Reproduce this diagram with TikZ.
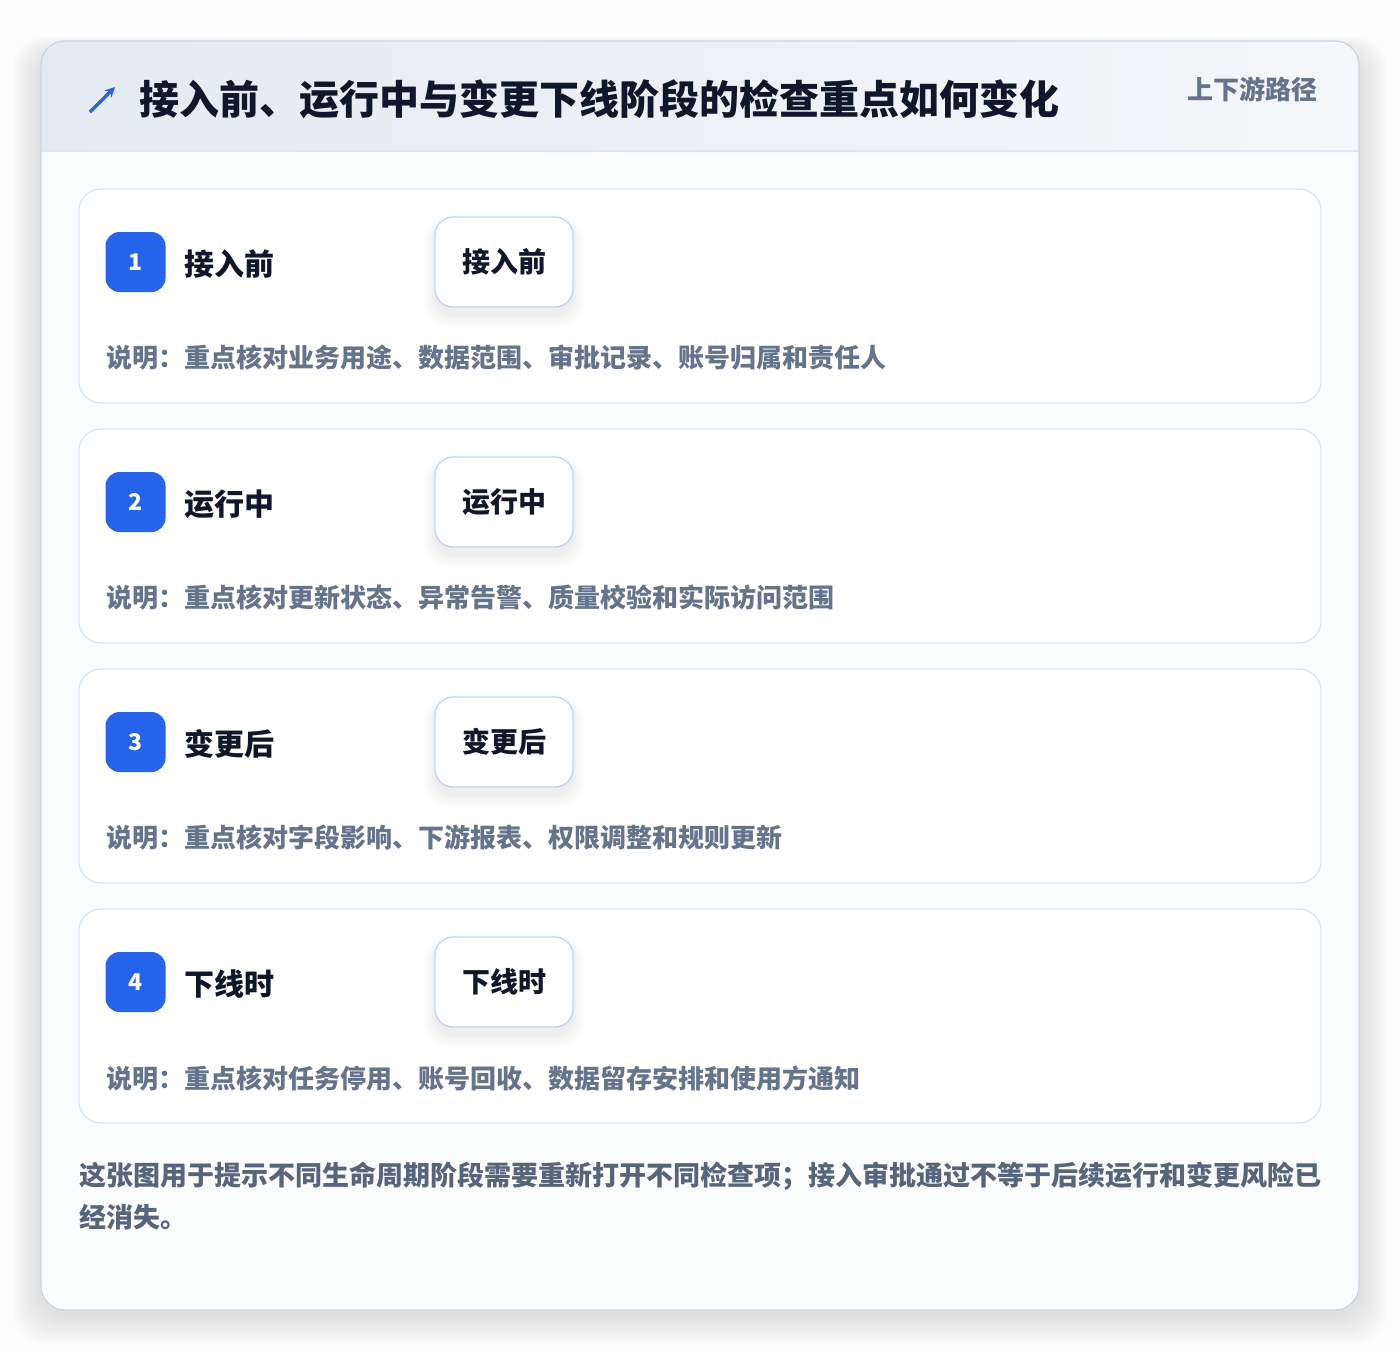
\documentclass[tikz,border=0pt]{standalone}
\usepackage{fontspec}
\usetikzlibrary{arrows.meta}
\setmainfont{Noto Sans CJK SC}
\definecolor{pagebg}{HTML}{FCFCFD}
\definecolor{panelfill}{HTML}{FBFCFE}
\definecolor{panelline}{HTML}{CBD5E1}
\definecolor{hdrL}{HTML}{E4EAF2}
\definecolor{hdrR}{HTML}{F5F7FA}
\definecolor{hdrline}{HTML}{DCE8F8}
\definecolor{cardline}{HTML}{DBE7F8}
\definecolor{chipline}{HTML}{BFD6F5}
\definecolor{accent}{HTML}{2563EB}
\definecolor{ink}{HTML}{0F172A}
\definecolor{muted}{HTML}{64748B}
\definecolor{note}{HTML}{56657A}
\begin{document}
\begin{tikzpicture}[x=1pt,y=-1pt,
  panel/.style={draw=panelline, line width=1.3pt, rounded corners=24pt},
  card/.style={draw=cardline, line width=1.4pt, fill=white, rounded corners=22pt, minimum width=1242pt, minimum height=214pt, inner sep=0pt},
  badge/.style={fill=accent, rounded corners=14pt, minimum width=60pt, minimum height=60pt, inner sep=0pt, text=white, font=\fontsize{23}{26}\selectfont\bfseries},
  steplabel/.style={anchor=west, inner sep=0pt, text=ink, font=\fontsize{30}{36}\selectfont\bfseries},
  chip/.style={draw=chipline, line width=1.4pt, fill=white, rounded corners=18pt, minimum width=138pt, minimum height=90pt, inner sep=0pt, text=ink, font=\fontsize{28}{34}\selectfont\bfseries},
  desc/.style={anchor=west, inner sep=0pt, text=muted, font=\fontsize{26}{31}\selectfont\bfseries}
]
\useasboundingbox (0,0) rectangle (1400,1352);
\fill[pagebg] (0,0) rectangle (1400,1352);
% soft shadow of the panel
\foreach \i in {1,...,14}{
  \fill[black, opacity=0.006, rounded corners=30pt] (41-2*\i, 41-\i+10) rectangle (1359+2*\i, 1310+2*\i+6);
}
\fill[panelfill, rounded corners=24pt] (41,41) rectangle (1359,1310);
\begin{scope}
  \clip[rounded corners=24pt] (41,41) rectangle (1359,1310);
  \shade[left color=hdrL, right color=hdrR] (41,41) rectangle (1359,151);
\end{scope}
\coordinate (hl) at (41,151);
\coordinate (hr) at (1359,151);
\draw[hdrline, line width=1.5pt] (hl) -- (hr);
\node[panel, minimum width=1318pt, minimum height=1269pt, inner sep=0pt] (panelbox) at (700,675.5) {};

% header
\coordinate (arrA) at (90,112);
\coordinate (arrB) at (115,87);
\draw[accent, line width=3.2pt, -{Stealth[length=10pt,width=10pt]}] (arrA) -- (arrB);
\node[anchor=west, inner sep=0pt, text=ink, font=\fontsize{40}{48}\selectfont\bfseries] (title) at (139,99) {接入前、运行中与变更下线阶段的检查重点如何变化};
\node[anchor=east, inner sep=0pt, text=muted, font=\fontsize{26}{31}\selectfont\bfseries] (tag) at (1318,89) {上下游路径};

% cards
\foreach \k/\name/\txt in {
  0/接入前/{重点核对业务用途、数据范围、审批记录、账号归属和责任人},
  1/运行中/{重点核对更新状态、异常告警、质量校验和实际访问范围},
  2/变更后/{重点核对字段影响、下游报表、权限调整和规则更新},
  3/下线时/{重点核对任务停用、账号回收、数据留存安排和使用方通知}}{
  \pgfmathsetmacro{\dy}{240*\k}
  \pgfmathtruncatemacro{\num}{\k+1}
  \node[card] (card\num) at (700,296+\dy) {};
  \foreach \j in {1,...,8}{
    \fill[black, opacity=0.006, rounded corners=22pt] (435-1.5*\j, 217+\dy+8-\j) rectangle (573+1.5*\j, 307+\dy+8+1.5*\j);
  }
  \node[badge] (badge\num) at (135.5,262+\dy) {\num};
  \node[steplabel] (label\num) at (184,264+\dy) {\name};
  \node[chip] (chip\num) at (504,262+\dy) {\name};
  \node[desc] (desc\num) at (106,358+\dy) {说明：\txt};
}

% footer
\node[anchor=north west, inner sep=0pt, align=left, text=note, font=\fontsize{27}{42}\selectfont\bfseries] (footer) at (79,1162) {这张图用于提示不同生命周期阶段需要重新打开不同检查项；接入审批通过不等于后续运行和变更风险已\\经消失。};
\end{tikzpicture}
\end{document}
